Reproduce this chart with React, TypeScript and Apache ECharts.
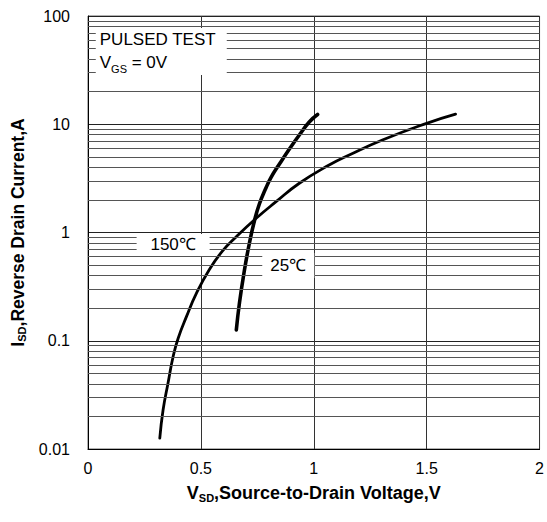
import React, { useEffect, useRef } from 'react';
import * as echarts from 'echarts';

// 25 ℃ curve (V_SD in V, I_SD in A)
const vsd25 = [0.657, 0.671, 0.693, 0.715, 0.737, 0.759, 0.786, 0.812, 0.848, 0.892, 0.936, 0.980, 1.017];
const isd25 = [0.126, 0.225, 0.45, 0.80, 1.277, 1.834, 2.52, 3.26, 4.29, 5.9, 7.96, 10.5, 12.3];

// 150 ℃ curve
const vsd150 = [0.318, 0.3325, 0.3545, 0.3766, 0.399, 0.436, 0.480, 0.539, 0.597, 0.657, 0.745, 0.833, 0.936, 1.068, 1.157, 1.304, 1.500, 1.628];
const isd150 = [0.0126, 0.0229, 0.0407, 0.0708, 0.105, 0.167, 0.274, 0.46, 0.68, 0.915, 1.353, 1.925, 2.85, 4.2, 5.2, 7.15, 10.2, 12.4];

const xTickLabels = ['0', '0.5', '1', '1.5', '2'];
const yTickValues = [0.01, 0.1, 1, 10, 100];
const yTickLabels = ['0.01', '0.1', '1', '10', '100'];
const minorGridValues = [
  0.02, 0.03, 0.04, 0.05, 0.06, 0.07, 0.08, 0.09,
  0.2, 0.3, 0.4, 0.5, 0.6, 0.7, 0.8, 0.9,
  2, 3, 4, 5, 6, 7, 8, 9,
  20, 30, 40, 50, 60, 70, 80, 90,
];
const seriesNames = ['25℃', '150℃'];

const FONT = 'Arial, "Liberation Sans", sans-serif';

export default function App() {
  const ref = useRef<HTMLDivElement>(null);
  useEffect(() => {
    if (!ref.current) return;
    const chart = echarts.init(ref.current, undefined, { renderer: 'svg' });
    const pairs = (xs: number[], ys: number[]) => xs.map((x, i) => [x, ys[i]]);
    const yLabel = (v: number) => {
      let best = 0;
      yTickValues.forEach((t, i) => {
        if (Math.abs(Math.log10(t) - Math.log10(v)) < Math.abs(Math.log10(yTickValues[best]) - Math.log10(v))) best = i;
      });
      return yTickLabels[best];
    };
    const boxLabel = (text: string) => ({
      show: true,
      position: 'inside',
      formatter: text,
      color: '#000',
      fontSize: 17,
      fontFamily: FONT,
    });
    chart.setOption({
      animation: false,
      backgroundColor: '#fff',
      textStyle: { fontFamily: FONT },
      grid: {
        left: 88, top: 16, right: 6, bottom: 73,
        show: true, borderColor: '#666', borderWidth: 1, backgroundColor: 'transparent',
      },
      xAxis: {
        type: 'value', min: 0, max: 2, interval: 0.5,
        axisLine: { show: true, onZero: false, lineStyle: { color: '#000', width: 1 } },
        axisTick: { show: false },
        axisLabel: {
          color: '#000', fontSize: 16, margin: 11, fontFamily: FONT,
          formatter: (v: number) => xTickLabels[Math.round(v / 0.5)],
        },
        splitLine: { show: true, lineStyle: { color: '#333', width: 1 } },
        name: '{b|V}{s|SD}{b|,Source-to-Drain Voltage,V}',
        nameLocation: 'middle',
        nameGap: 33,
        nameTextStyle: {
          rich: {
            b: { fontSize: 18, fontWeight: 'bold', color: '#000', fontFamily: FONT, lineHeight: 21 },
            s: { fontSize: 11, fontWeight: 'bold', color: '#000', fontFamily: FONT, lineHeight: 21, verticalAlign: 'bottom' },
          },
        },
      },
      yAxis: {
        type: 'log', logBase: 10, min: 0.01, max: 100,
        axisLine: { show: true, lineStyle: { color: '#000', width: 1 } },
        axisTick: { show: false },
        axisLabel: { color: '#000', fontSize: 16, margin: 18, fontFamily: FONT, formatter: yLabel },
        splitLine: { show: true, lineStyle: { color: '#222', width: 1 } },
        minorTick: { show: false },
        minorSplitLine: { show: false },
        name: '{b|I}{s|SD}{b|,Reverse Drain Current,A}',
        nameLocation: 'middle',
        nameGap: 57,
        nameTextStyle: {
          rich: {
            b: { fontSize: 17.5, fontWeight: 'bold', color: '#000', fontFamily: FONT, lineHeight: 20 },
            s: { fontSize: 11, fontWeight: 'bold', color: '#000', fontFamily: FONT, lineHeight: 20, verticalAlign: 'bottom' },
          },
        },
      },
      series: [
        {
          type: 'line', name: 'grid', data: [], z: 1, silent: true,
          markLine: {
            silent: true, symbol: 'none', animation: false,
            label: { show: false },
            lineStyle: { color: '#555', width: 1, type: 'solid' },
            emphasis: { disabled: true },
            data: minorGridValues.map((v) => ({ yAxis: v })),
          },
        },
        {
          type: 'line', name: 'labels', data: [], z: 2, silent: true,
          markPoint: {
            silent: true, animation: false,
            itemStyle: { color: '#fff' },
            data: [
              {
                coord: [0.3245, 47], symbol: 'rect', symbolSize: [131, 47],
                label: {
                  show: true, position: 'insideLeft', distance: 4,
                  formatter: '{a|PULSED TEST}\n{a|V}{s|GS}{a| = 0V}',
                  rich: {
                    a: { fontSize: 17, color: '#000', fontFamily: FONT, lineHeight: 23 },
                    s: { fontSize: 11, color: '#000', fontFamily: FONT, lineHeight: 23, verticalAlign: 'bottom' },
                  },
                },
              },
              { coord: [0.377, 0.767], symbol: 'rect', symbolSize: [73, 22], label: boxLabel(seriesNames[1]) },
              { coord: [0.887, 0.495], symbol: 'rect', symbolSize: [52, 25], label: boxLabel(seriesNames[0]) },
            ],
          },
        },
        {
          type: 'line', name: seriesNames[0], data: pairs(vsd25, isd25), z: 3,
          smooth: 0.5, showSymbol: false, symbol: 'none',
          lineStyle: { color: '#000', width: 3.6, cap: 'round', join: 'round' },
        },
        {
          type: 'line', name: seriesNames[1], data: pairs(vsd150, isd150), z: 3,
          smooth: 0.5, showSymbol: false, symbol: 'none',
          lineStyle: { color: '#000', width: 2.8, cap: 'round', join: 'round' },
        },
      ],
    });
    return () => chart.dispose();
  }, []);
  return <div ref={ref} style={{ position: 'fixed', left: 0, top: 0, width: 547, height: 522, background: '#fff' }} />;
}
